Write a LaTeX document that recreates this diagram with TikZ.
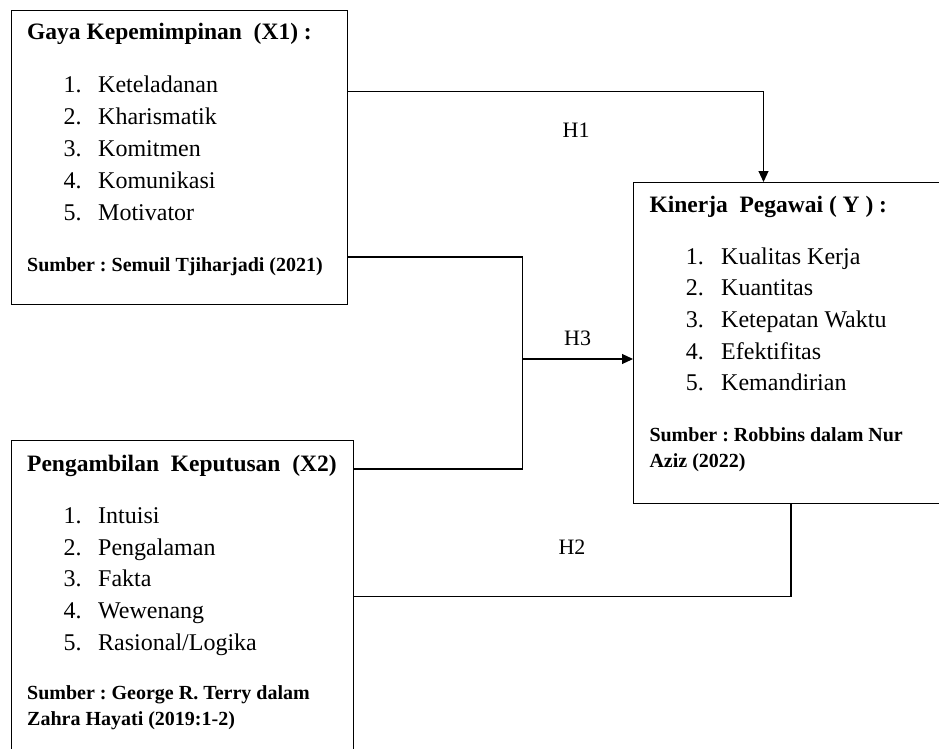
\documentclass[tikz,border=0pt]{standalone}
\usepackage{fontspec}
\setmainfont{Liberation Serif}
\usetikzlibrary{calc,arrows.meta}
\frenchspacing
\begin{document}
\begin{tikzpicture}[x=1pt,y=-1pt,
  box/.style={draw=black, line width=0.9pt, rectangle, anchor=north west, inner sep=0pt, outer sep=0pt},
  head/.style={anchor=base west, inner sep=0pt, font=\fontsize{23.5}{28}\selectfont\bfseries},
  item/.style={anchor=base west, inner sep=0pt, font=\fontsize{24}{28}\selectfont},
  src/.style={anchor=base west, inner sep=0pt, font=\fontsize{20}{24}\selectfont\bfseries},
  hlab/.style={anchor=base west, inner sep=0pt, font=\fontsize{22}{26}\selectfont},
  conn/.style={draw=black, line width=1.1pt},
  arr/.style={conn, -{Triangle[length=11pt,width=10pt]}}]
\useasboundingbox (0,0) rectangle (939,749);
\clip (0,0) rectangle (939,749);

% boxes
\node[box, minimum width=336.5pt, minimum height=293.5pt] (x1) at (11,10.5) {};
\node[box, minimum width=330pt, minimum height=321pt] (yb) at (633,182) {};
\node[box, minimum width=342pt, minimum height=330pt] (x2) at (11,440.5) {};

% X1 texts
\node[head] (x1h) at (27,40) {Gaya Kepemimpinan~ (X1) :};
\foreach \t [count=\i] in {Keteladanan, Kharismatik, Komitmen, Komunikasi, Motivator}{
  \node[item] (x1n\i) at (63.5,{93+31.75*(\i-1)}) {\i.};
  \node[item] (x1i\i) at (98,{93+31.75*(\i-1)}) {\t};
}
\node[src] (x1s) at (27,271) {Sumber : Semuil Tjiharjadi (2021)};

% Y texts
\node[head] (yh) at (649.3,212.3) {Kinerja~ Pegawai ( Y ) :};
\foreach \t [count=\i] in {Kualitas Kerja, Kuantitas, Ketepatan Waktu, Efektifitas, Kemandirian}{
  \node[item] (yn\i) at (685.7,{264+31.7*(\i-1)}) {\i.};
  \node[item] (yi\i) at (721,{264+31.7*(\i-1)}) {\t};
}
\node[src] (ys1) at (649.3,441.7) {Sumber : Robbins dalam Nur};
\node[src] (ys2) at (649.3,467.7) {Aziz (2022)};

% X2 texts
\node[head] (x2h) at (27,471.7) {Pengambilan~ Keputusan~ (X2)};
\foreach \t [count=\i] in {Intuisi, Pengalaman, Fakta, Wewenang, {Rasional/Logika}}{
  \node[item] (x2n\i) at (63.5,{523.3+31.7*(\i-1)}) {\i.};
  \node[item] (x2i\i) at (98,{523.3+31.7*(\i-1)}) {\t};
}
\node[src] (x2s1) at (27,699.3) {Sumber : George R. Terry dalam};
\node[src] (x2s2) at (27,725) {Zahra Hayati (2019:1-2)};

% H1
\draw[arr] ($(x1.north east)+(0,81)$) -| ($(yb.north west)+(130.5,0)$);
\node[hlab] (h1) at (562.5,137.7) {H1};

% H3
\coordinate (j3) at (522.5,359);
\draw[conn] ($(x1.north east)+(0,246.5)$) -| (j3) |- ($(x2.north east)+(0,28.5)$);
\draw[arr] (j3) -- (yb.west |- j3);
\node[hlab] (h3) at (564,345.3) {H3};

% H2
\draw[conn] ($(x2.north east)+(0,156)$) -| ($(yb.south west)+(158,0)$);
\node[hlab] (h2) at (558.3,554) {H2};
\end{tikzpicture}
\end{document}
